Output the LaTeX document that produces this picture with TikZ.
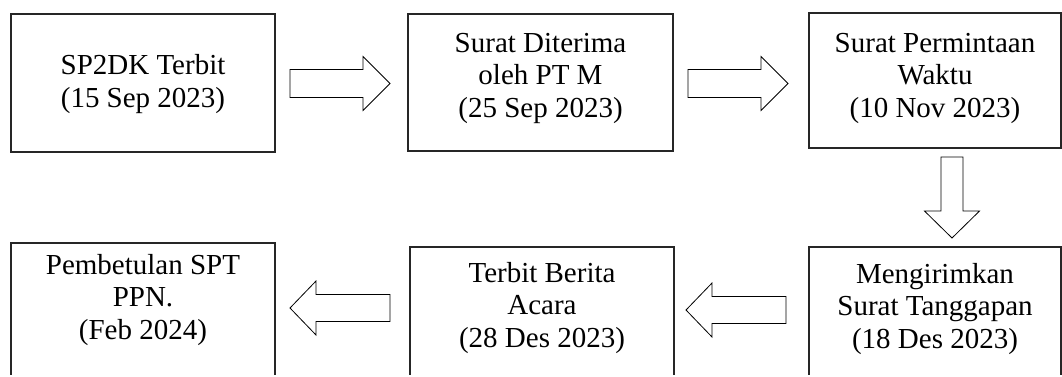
\documentclass[tikz,border=0pt]{standalone}
\usepackage{fontspec}
\setmainfont{Liberation Serif}
\begin{document}
\begin{tikzpicture}[x=1pt,y=-1pt,
  box/.style={draw=black!85, line width=1.1pt, inner sep=0pt},
  lbl/.style={align=center, font=\fontsize{29}{32.5}\selectfont, inner sep=0pt},
  arr/.style={draw=black, line width=0.8pt, fill=white, line join=miter},
  rarrow/.pic={\path[arr] (0,-14) -- (73,-14) -- (73,-27) -- (100,0) -- (73,27) -- (73,14) -- (0,14) -- cycle;},
  larrow/.pic={\path[arr] (0,-13.5) -- (-74,-13.5) -- (-74,-27) -- (-100,0) -- (-74,27) -- (-74,13.5) -- (0,13.5) -- cycle;},
  darrow/.pic={\path[arr] (-11,0) -- (-11,54) -- (-27.5,54) -- (0,81) -- (27.5,54) -- (11,54) -- (11,0) -- cycle;}]
\useasboundingbox (0,0) rectangle (1062,376);
\clip (0,0) rectangle (1062,374.4);
% boxes
\node[box, minimum width=264pt, minimum height=138pt] (b1) at (143,83) {};
\node[box, minimum width=265pt, minimum height=137pt] (b2) at (540.5,82.5) {};
\node[box, minimum width=252pt, minimum height=135pt] (b3) at (935,80.5) {};
\node[box, minimum width=264pt, minimum height=137pt] (b4) at (143,311.5) {};
\node[box, minimum width=264pt, minimum height=133pt] (b5) at (542,313.5) {};
\node[box, minimum width=252pt, minimum height=133pt] (b6) at (935,313.5) {};
% texts
\node[lbl] (t1) at (143,84) {SP2DK Terbit\\(15 Sep 2023)};
\node[lbl] (t2) at (540.5,78) {Surat Diterima\\oleh PT M\\(25 Sep 2023)};
\node[lbl] (t3) at (935,78) {Surat Permintaan\\Waktu\\(10 Nov 2023)};
\node[lbl] (t4) at (143,300) {Pembetulan SPT\\PPN.\\(Feb 2024)};
\node[lbl] (t5) at (542,308) {Terbit Berita\\Acara\\(28 Des 2023)};
\node[lbl] (t6) at (935,309) {Mengirimkan\\Surat Tanggapan\\(18 Des 2023)};
% block arrows
\pic at (290,83.5) {rarrow};
\pic at (688,83.5) {rarrow};
\pic at (952,157) {darrow};
\pic at (786,310) {larrow};
\pic at (390,308) {larrow};
\end{tikzpicture}
\end{document}
